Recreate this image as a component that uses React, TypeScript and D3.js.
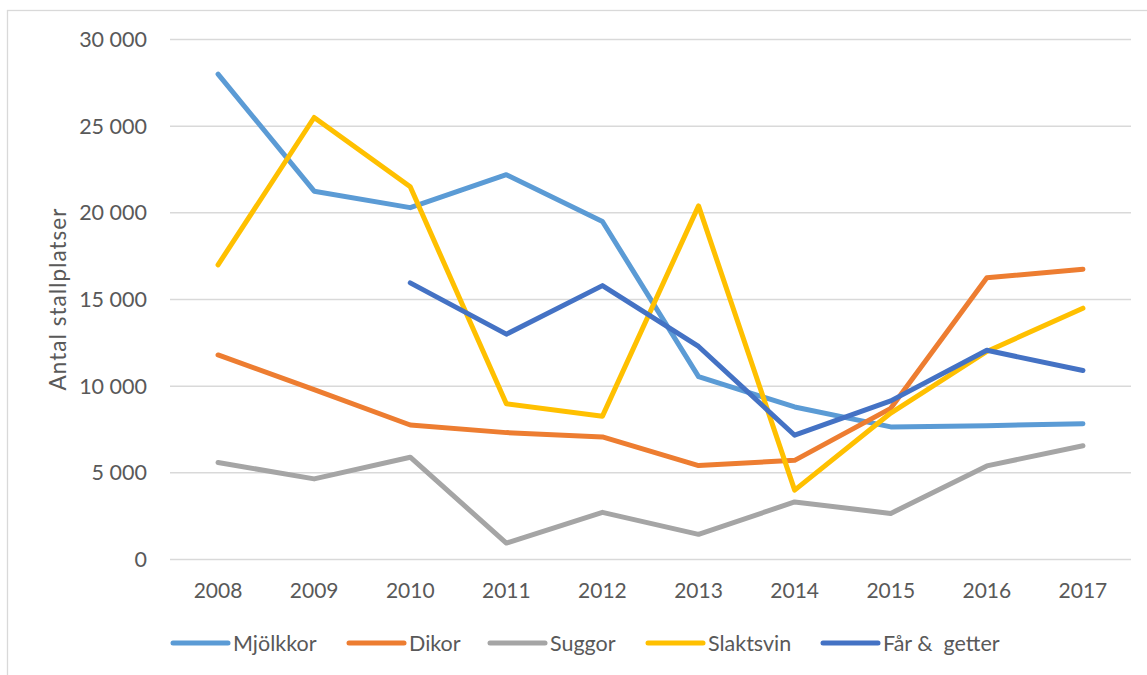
import React from "react";
import * as d3 from "d3";

const years = ["2008", "2009", "2010", "2011", "2012", "2013", "2014", "2015", "2016", "2017"];
const mjolkkor = [28000, 21250, 20300, 22200, 19500, 10550, 8800, 7650, 7720, 7830];
const dikor = [11800, 9800, 7760, 7320, 7070, 5420, 5720, 8720, 16250, 16750];
const suggor = [5600, 4650, 5900, 950, 2720, 1450, 3320, 2660, 5400, 6560];
const slaktsvin = [17000, 25500, 21500, 8980, 8270, 20400, 4000, 8450, 12000, 14500];
const farGetter = [null, null, 15960, 13000, 15800, 12290, 7170, 9150, 12070, 10900];
const yTicks = [0, 5000, 10000, 15000, 20000, 25000, 30000];
const seriesNames = ["Mjölkkor", "Dikor", "Suggor", "Slaktsvin", "Får &  getter"];
const seriesColors = ["#5B9BD5", "#ED7D31", "#A5A5A5", "#FFC000", "#4472C4"];
const seriesData: (number | null)[][] = [mjolkkor, dikor, suggor, slaktsvin, farGetter];

const FONT = "Lato, 'Open Sans', sans-serif";
const TEXT = "#595959";

export default function App() {
  const left = 170, right = 1131, top = 39.5, bottom = 559.5;
  const x = d3.scaleBand<string>().domain(years).range([left, right]);
  const y = d3.scaleLinear().domain([0, 30000]).range([bottom, top]);
  const cx = (yr: string) => (x(yr) as number) + x.bandwidth() / 2;
  const fmt = (v: number) => d3.format(",")(v).replace(/,/g, " ");

  const line = d3
    .line<number | null>()
    .defined((d) => d !== null)
    .x((_, i) => cx(years[i]))
    .y((d) => y(d as number));

  const legendX = [173, 349, 490, 648, 823];
  const legendY = 643;

  return (
    <svg
      width={1147}
      height={675}
      style={{ position: "absolute", left: 0, top: 0, background: "#fff" }}
    >
      <rect x={7.5} y={10.5} width={1160} height={700} fill="#fff" stroke="#d9d9d9" strokeWidth={1.3} />
      {yTicks.map((t) => (
        <g key={t}>
          <line x1={left} x2={right} y1={y(t)} y2={y(t)} stroke="#d9d9d9" strokeWidth={1.5} />
          <text
            x={147}
            y={y(t)}
            dy="0.35em"
            textAnchor="end"
            fontFamily={FONT}
            fontSize={21.5}
            fill={TEXT}
          >
            {fmt(t)}
          </text>
        </g>
      ))}
      {years.map((yr) => (
        <text
          key={yr}
          x={cx(yr)}
          y={591}
          dy="0.35em"
          textAnchor="middle"
          fontFamily={FONT}
          fontSize={21}
          fill={TEXT}
        >
          {yr}
        </text>
      ))}
      <text
        transform={`translate(58, ${(top + bottom) / 2}) rotate(-90)`}
        textAnchor="middle"
        dy="0.35em"
        fontFamily={FONT}
        fontSize={22.5}
        fill={TEXT}
        textLength={182}
        lengthAdjust="spacing"
      >
        Antal stallplatser
      </text>
      {seriesData.map((s, i) => (
        <path
          key={seriesNames[i]}
          d={line(s) || ""}
          fill="none"
          stroke={seriesColors[i]}
          strokeWidth={5}
          strokeLinecap="round"
          strokeLinejoin="round"
        />
      ))}
      {seriesNames.map((n, i) => (
        <g key={n}>
          <line
            x1={legendX[i]}
            x2={legendX[i] + 55}
            y1={legendY}
            y2={legendY}
            stroke={seriesColors[i]}
            strokeWidth={5}
            strokeLinecap="round"
          />
          <text
            x={legendX[i] + 60}
            y={legendY}
            dy="0.35em"
            fontFamily={FONT}
            fontSize={21.5}
            fill={TEXT}
            style={{ whiteSpace: "pre" }}
          >
            {n}
          </text>
        </g>
      ))}
    </svg>
  );
}
